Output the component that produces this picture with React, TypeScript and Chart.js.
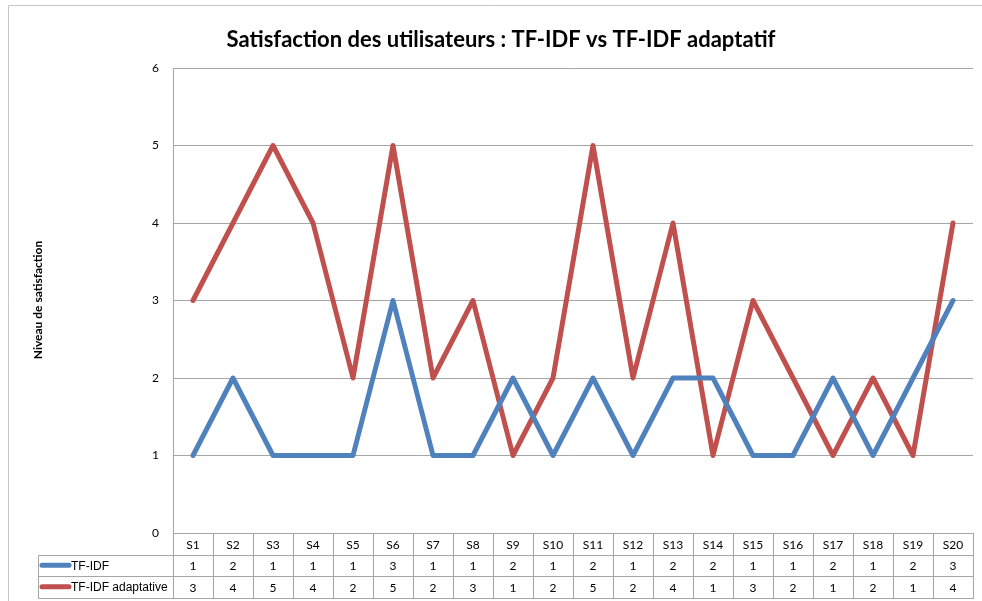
import React, { useEffect, useRef } from "react";
import { Chart, registerables } from "chart.js";

Chart.register(...registerables);

const categories = ["S1","S2","S3","S4","S5","S6","S7","S8","S9","S10","S11","S12","S13","S14","S15","S16","S17","S18","S19","S20"];
const tfidf = [1,2,1,1,1,3,1,1,2,1,2,1,2,2,1,1,2,1,2,3];
const tfidfAdapt = [3,4,5,4,2,5,2,3,1,2,5,2,4,1,3,2,1,2,1,4];
const seriesNames = ["TF-IDF", "TF-IDF adaptative"];
const seriesColors = ["#4F81BD", "#C0504D"];
const yTicks = [0, 1, 2, 3, 4, 5, 6];
const chartTitle = "Satisfaction des utilisateurs : TF-IDF vs TF-IDF adaptatif";
const yTitle = "Niveau de satisfaction";

const FONT = "Lato, 'Open Sans', sans-serif";
const GRID = "#a6a6a6";

const tablePlugin = {
  id: "excelTable",
  afterDraw(chart: any) {
    const ctx = chart.ctx;
    const x = chart.scales.x;
    const area = chart.chartArea;
    const rowH = 21.5;
    const top = area.bottom;
    const r1 = top + rowH;
    const r2 = r1 + rowH;
    const r3 = r2 + rowH;
    const legendLeft = 38;
    const half = (x.getPixelForValue(1) - x.getPixelForValue(0)) / 2;
    ctx.save();
    // outer frame
    ctx.strokeStyle = "#c8c8c8";
    ctx.lineWidth = 1;
    ctx.beginPath();
    ctx.moveTo(8.5, chart.height + 5);
    ctx.lineTo(8.5, 5.5);
    ctx.lineTo(chart.width + 5, 5.5);
    ctx.stroke();

    // title
    ctx.fillStyle = "#000";
    ctx.font = `bold 22px ${FONT}`;
    ctx.textAlign = "center";
    ctx.textBaseline = "middle";
    ctx.fillText(chartTitle, 501, 40);

    // y title
    ctx.save();
    ctx.translate(38, 300);
    ctx.rotate(-Math.PI / 2);
    ctx.font = `bold 12px ${FONT}`;
    ctx.fillText(yTitle, 0, 0);
    ctx.restore();

    // table lines
    ctx.strokeStyle = GRID;
    ctx.lineWidth = 1;
    ctx.beginPath();
    const right = Math.round(area.right) + 0.5;
    [r1, r2, r3].forEach((yy) => {
      const y0 = Math.round(yy) + 0.5;
      ctx.moveTo(legendLeft + 0.5, y0);
      ctx.lineTo(right, y0);
    });
    ctx.moveTo(legendLeft + 0.5, Math.round(r1) + 0.5);
    ctx.lineTo(legendLeft + 0.5, Math.round(r3) + 0.5);
    for (let i = 0; i <= categories.length; i++) {
      const px = i < categories.length ? x.getPixelForValue(i) - half : x.getPixelForValue(categories.length - 1) + half;
      const xx = Math.round(px) + 0.5;
      ctx.moveTo(xx, Math.round(top));
      ctx.lineTo(xx, Math.round(r3) + 0.5);
    }
    ctx.stroke();

    // header + values
    ctx.fillStyle = "#000";
    ctx.font = `12px ${FONT}`;
    ctx.textAlign = "center";
    ctx.textBaseline = "middle";
    const rows = [tfidf, tfidfAdapt];
    categories.forEach((c, i) => {
      const cx = x.getPixelForValue(i);
      ctx.fillText(c, cx, (top + r1) / 2 + 1);
      rows.forEach((vals, k) => {
        const yy = k === 0 ? (r1 + r2) / 2 : (r2 + r3) / 2;
        ctx.fillText(String(vals[i]), cx, yy + 1);
      });
    });

    // legend cells
    seriesNames.forEach((name, k) => {
      const yy = k === 0 ? (r1 + r2) / 2 : (r2 + r3) / 2;
      ctx.strokeStyle = seriesColors[k];
      ctx.lineWidth = 5;
      ctx.lineCap = "round";
      ctx.beginPath();
      ctx.moveTo(42, yy);
      ctx.lineTo(69, yy);
      ctx.stroke();
      ctx.fillStyle = "#000";
      ctx.font = `12px 'Liberation Sans', Arial, sans-serif`;
      ctx.textAlign = "left";
      ctx.fillText(name, 71, yy + 1);
    });
    ctx.restore();
  },
};

export default function App() {
  const ref = useRef<HTMLCanvasElement | null>(null);
  useEffect(() => {
    document.body.style.margin = "0";
    const canvas = ref.current!;
    const chart = new Chart(canvas, {
      type: "line",
      data: {
        labels: categories,
        datasets: [
          {
            label: seriesNames[0],
            data: tfidf,
            borderColor: seriesColors[0],
            backgroundColor: seriesColors[0],
            borderWidth: 5,
            pointRadius: 0,
            tension: 0,
            borderCapStyle: "round",
            borderJoinStyle: "round",
          },
          {
            label: seriesNames[1],
            data: tfidfAdapt,
            borderColor: seriesColors[1],
            backgroundColor: seriesColors[1],
            borderWidth: 5,
            pointRadius: 0,
            tension: 0,
            borderCapStyle: "round",
            borderJoinStyle: "round",
          },
        ],
      },
      options: {
        responsive: false,
        animation: false,
        devicePixelRatio: 1,
        layout: { padding: { left: 0, right: 9, top: 68, bottom: 68 } },
        plugins: {
          legend: { display: false },
          title: { display: false },
          tooltip: { enabled: false },
        },
        scales: {
          x: {
            type: "category",
            display: false,
            offset: true,
          },
          y: {
            min: 0,
            max: 6,
            afterFit: (s: any) => {
              s.width = 173;
            },
            afterBuildTicks: (s: any) => {
              s.ticks = yTicks.map((v) => ({ value: v }));
            },
            grid: { color: GRID, drawTicks: false, lineWidth: 1 },
            border: { display: true, color: GRID, width: 1 },
            ticks: {
              color: "#000",
              font: { family: FONT, size: 12 },
              padding: 14,
            },
          },
        },
      },
      plugins: [tablePlugin],
    });
    return () => chart.destroy();
  }, []);
  return <canvas ref={ref} width={982} height={601} style={{ display: "block" }} />;
}
